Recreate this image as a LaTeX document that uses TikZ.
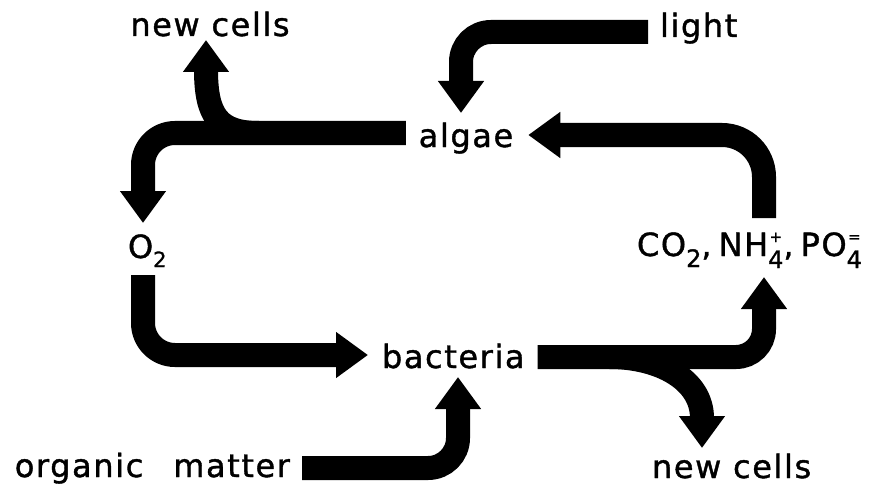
\documentclass[tikz,border=0pt]{standalone}
\usepackage{fontspec}
\setmainfont{DejaVu Sans}[LetterSpace=5,FakeBold=1.2]
\usetikzlibrary{arrows.meta,calc}
\newcommand\chemsub[1]{\raisebox{-11pt}{\fontsize{24}{24}\selectfont #1}}
\newcommand\osub[1]{\raisebox{-9pt}{\fontsize{21}{21}\selectfont #1}}
\newsavebox\chembox
\newcommand\chemsubsup[2]{\sbox\chembox{\fontsize{24}{24}\selectfont #1}%
  \rlap{\raisebox{-12pt}{\usebox\chembox}}%
  \makebox[\wd\chembox][c]{\raisebox{14pt}{\fontsize{15}{15}\selectfont #2}}}
\begin{document}
\begin{tikzpicture}[x=1pt,y=-1pt,
  flow/.style={line width=24pt,-{Triangle[width=44pt,length=32pt]},rounded corners=32pt},
  lbl/.style={inner sep=0pt,outer sep=0pt,font=\fontsize{32}{38}\selectfont}]
\useasboundingbox (0,0) rectangle (872,484);
% labels
\node[lbl,anchor=base] (nc1) at (210,36) {new cells};
\node[lbl,anchor=base west] (light) at (660,37) {light};
\node[lbl,anchor=base] (algae) at (466,147) {algae};
\node[lbl,anchor=base west] (o2) at (128,258) {O\osub{2}};
\node[lbl,anchor=base west] (chem) at (637,256) {CO\chemsub{2},\hspace{7pt}NH\chemsubsup{4}{+},\hspace{7pt}PO\chemsubsup{4}{=}};
\node[lbl,anchor=base west] (bact) at (382,368) {bacteria};
\node[lbl,anchor=base east] (org) at (290,477) {organic\hspace{30pt}matter};
\node[lbl,anchor=base west] (nc2) at (652,478) {new cells};
% connectors
\draw[flow,rounded corners=30pt] ($(light.base west)+(-12,-5)$) -| ($(algae.base)+(-5,-34)$);
\draw[flow,rounded corners=42pt] ($(chem.base west)+(127,-38)$) |- ($(algae.base east)+(15,-12)$);
\draw[flow] ($(algae.base west)+(-13,-14)$) -| ($(o2.base west)+(15,-35)$);
\coordinate (b1) at ($(algae.base west)+(-160,-14)$);
\draw[flow] (b1) .. controls ($(b1)+(-40,0)$) and ($(nc1.base)+(-4,80)$) .. ($(nc1.base)+(-4,4)$);
\draw[flow] ($(o2.base west)+(15,17)$) |- ($(bact.base west)+(-14,-13)$);
\draw[flow,rounded corners=30pt] ($(org.base east)+(12,-9)$) -| ($(bact.base west)+(76,9)$);
\draw[flow,rounded corners=28pt] ($(bact.base east)+(13,-11)$) -| ($(chem.base west)+(127,21)$);
\coordinate (b2) at ($(bact.base east)+(85,-11)$);
\draw[flow] (b2) .. controls ($(b2)+(50,0)$) and ($(nc2.base west)+(50,-98)$) .. ($(nc2.base west)+(50,-30)$);
\end{tikzpicture}
\end{document}
